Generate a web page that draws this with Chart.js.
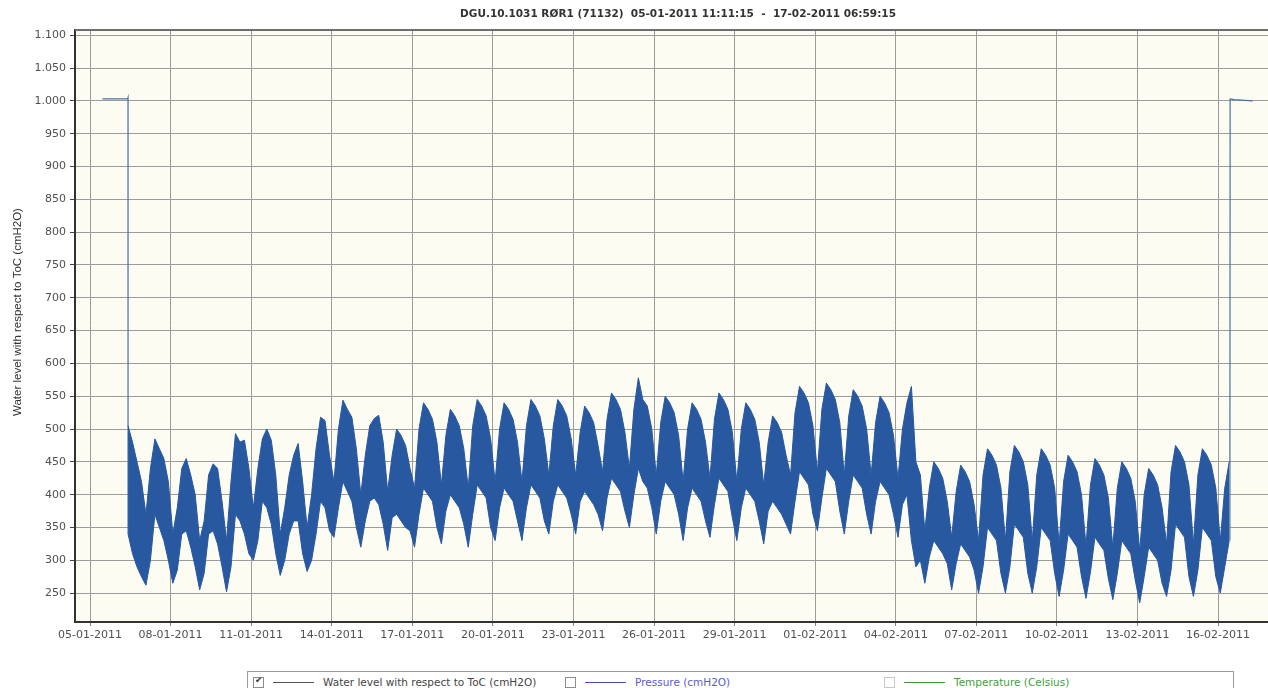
<!DOCTYPE html>
<html>
<head>
<meta charset="utf-8">
<script src="https://cdn.jsdelivr.net/npm/chart.js@4.4.1/dist/chart.umd.min.js"></script>
<style>
  html, body { margin: 0; padding: 0; background: #fff; width: 1268px; height: 688px; overflow: hidden; }
  #wrap { position: relative; width: 1268px; height: 688px; }
  #chart { position: absolute; left: 0; top: 0; }
  #legend { position: absolute; left: 247px; top: 671px; width: 985px; height: 20px;
            border: 1px solid #9a9a9a; background: #fff; font: 10.5px "DejaVu Sans", sans-serif; }
  .item { position: absolute; top: 0; height: 20px; display: flex; align-items: center; white-space: nowrap; }
  .box { width: 9px; height: 9px; border: 1px solid #8c8c8c; background: #fff; position: relative; }
  .box.on::after { content: "\2714"; position: absolute; left: 1px; top: -3px; font-size: 9px; color: #333; }
  .sample { display: inline-block; width: 41px; height: 1px; margin: 0 9px 0 9px; }
</style>
</head>
<body>
<div id="wrap">
  <canvas id="chart" width="1268" height="665"></canvas>
  <div id="legend">
    <div class="item" style="left:5px"><span class="box on"></span><span class="sample" style="background:#555"></span><span style="color:#444">Water level with respect to ToC (cmH2O)</span></div>
    <div class="item" style="left:317px"><span class="box"></span><span class="sample" style="background:#4a4ac8"></span><span style="color:#5a5ad0">Pressure (cmH2O)</span></div>
    <div class="item" style="left:636px"><span class="box" style="border-color:#c8c8c8"></span><span class="sample" style="background:#3a9a3a"></span><span style="color:#3f9f3f">Temperature (Celsius)</span></div>
  </div>
</div>
<script>
// Time is measured in days from 05-01-2011 00:00.
const chartTitle = 'DGU.10.1031 RØR1 (71132)  05-01-2011 11:11:15  -  17-02-2011 06:59:15';
const yTitle = 'Water level with respect to ToC (cmH2O)';

const tickDays = [0, 3, 6, 9, 12, 15, 18, 21, 24, 27, 30, 33, 36, 39, 42];
const tickLabels = ['05-01-2011', '08-01-2011', '11-01-2011', '14-01-2011', '17-01-2011',
  '20-01-2011', '23-01-2011', '26-01-2011', '29-01-2011', '01-02-2011', '04-02-2011',
  '07-02-2011', '10-02-2011', '13-02-2011', '16-02-2011'];

const yTicks = [250, 300, 350, 400, 450, 500, 550, 600, 650, 700, 750, 800, 850, 900, 950, 1000, 1050, 1100];
const yTickLabels = ['250', '300', '350', '400', '450', '500', '550', '600', '650', '700', '750',
  '800', '850', '900', '950', '1.000', '1.050', '1.100'];

// Logger hanging in air before installation, then the drop into the well
const startTimes  = [0.466, 1.40, 1.415, 1.4167];
const startLevels = [1003, 1003, 1005, 340];

// Logger pulled up again at the end of the period
const endTimes  = [42.44, 42.45, 42.60, 43.29];
const endLevels = [330, 1003, 1002, 1000];

// Envelope of the dense in-well record, one pair every 4 hours from 06-01-2011 10:00
const bandStart = 1.4167;
const bandStepDays = 4 / 24;
const bandUpper = [
  // 06-01: 10 14 18 22
  505, 480, 450, 420,
  // 07-01 onwards: 02 06 10 14 18 22
  370, 440, 485, 470, 455, 420,
  340, 380, 440, 455, 430, 400,
  330, 360, 430, 447, 440, 390,
  330, 420, 493, 480, 483, 440,
  380, 440, 485, 500, 483, 430,
  340, 380, 430, 460, 478, 420,
  350, 400, 470, 518, 513, 460,
  420, 500, 544, 530, 518, 470,
  400, 460, 505, 516, 521, 480,
  405, 460, 500, 490, 475, 440,
  410, 500, 540, 530, 515, 480,
  415, 490, 530, 520, 505, 470,
  410, 505, 545, 535, 520, 485,
  420, 500, 540, 530, 515, 480,
  420, 505, 545, 535, 520, 485,
  430, 505, 545, 535, 520, 485,
  430, 495, 535, 525, 510, 475,
  435, 515, 555, 545, 530, 495,
  440, 530, 578, 545, 535, 500,
  430, 510, 550, 540, 525, 490,
  420, 500, 540, 530, 515, 480,
  425, 515, 555, 545, 530, 495,
  420, 500, 540, 530, 515, 480,
  415, 480, 520, 510, 495, 460,
  430, 525, 565, 555, 540, 505,
  435, 530, 570, 560, 545, 510,
  430, 520, 560, 550, 535, 500,
  430, 510, 550, 540, 525, 490,
  425, 500, 540, 565, 450, 430,
  345, 410, 450, 440, 425, 390,
  335, 405, 445, 435, 420, 385,
  330, 430, 470, 460, 445, 410,
  330, 435, 475, 465, 450, 415,
  330, 430, 470, 460, 445, 410,
  325, 420, 460, 450, 435, 400,
  322, 415, 455, 445, 430, 395,
  320, 410, 450, 440, 425, 390,
  315, 400, 440, 430, 415, 380,
  325, 435, 475, 465, 450, 415,
  325, 430, 470, 460, 445, 410,
  // 16-02: 02 06 10
  330, 410, 450
];
const bandLower = [
  340, 310, 290, 275,
  262, 300, 370, 350, 330, 300,
  265, 285, 340, 345, 320, 290,
  255, 280, 340, 345, 325, 290,
  252, 290, 370, 360, 340, 310,
  300, 330, 390, 380, 355, 310,
  277, 300, 340, 360, 360, 310,
  283, 300, 340, 390, 380, 345,
  335, 380, 420, 405, 390, 350,
  320, 360, 390, 395, 385, 355,
  315, 365, 370, 360, 350, 345,
  320, 370, 410, 400, 390, 350,
  325, 375, 400, 390, 380, 355,
  320, 370, 415, 405, 395, 350,
  330, 380, 410, 400, 390, 360,
  330, 380, 415, 405, 395, 360,
  340, 390, 415, 405, 395, 370,
  340, 390, 405, 395, 385, 370,
  345, 395, 425, 415, 405, 375,
  350, 400, 440, 420, 410, 380,
  340, 390, 420, 410, 400, 370,
  330, 380, 410, 400, 390, 360,
  335, 385, 425, 415, 405, 365,
  330, 380, 410, 400, 390, 360,
  325, 375, 390, 380, 370, 355,
  340, 390, 435, 425, 415, 370,
  345, 395, 440, 430, 420, 375,
  340, 390, 430, 420, 410, 370,
  340, 390, 420, 410, 400, 370,
  335, 385, 400, 330, 290, 300,
  265, 305, 330, 320, 310, 295,
  255, 295, 325, 315, 305, 285,
  250, 290, 350, 340, 330, 280,
  250, 290, 355, 345, 335, 280,
  250, 290, 350, 340, 330, 280,
  245, 285, 340, 330, 320, 275,
  242, 282, 335, 325, 315, 272,
  240, 280, 330, 320, 310, 270,
  235, 275, 320, 310, 300, 265,
  245, 285, 355, 345, 335, 275,
  245, 285, 350, 340, 330, 275,
  250, 290, 330
];

const Y_MIN = 206, Y_MAX = 1108;
const X_MIN = -0.5585, X_MAX = 43.86;
const BAND_COLOR = 'rgb(40,88,160)';
const LINE_COLOR = 'rgb(70,115,160)';

const pts = (ts, vs) => ts.map((t, i) => ({ x: t, y: vs[i] }));
const bandTimes = bandUpper.map((_, i) => bandStart + i * bandStepDays);

const framePlugin = {
  id: 'frame',
  beforeDraw(chart) {
    const { ctx, chartArea: a } = chart;
    ctx.save();
    ctx.fillStyle = '#fcfcf2';
    ctx.fillRect(a.left, a.top, a.right - a.left, a.bottom - a.top);
    ctx.restore();
  },
  afterDraw(chart) {
    const { ctx, chartArea: a } = chart;
    ctx.save();
    ctx.strokeStyle = '#6e6e6e';
    ctx.lineWidth = 2;
    ctx.beginPath();
    ctx.moveTo(a.left, a.top);
    ctx.lineTo(a.right, a.top);
    ctx.stroke();
    // chart title
    ctx.fillStyle = '#333';
    ctx.font = 'bold 10.5px "DejaVu Sans", sans-serif';
    ctx.textAlign = 'center';
    ctx.textBaseline = 'middle';
    ctx.fillText(chartTitle, 678, 14);
    // y axis title
    ctx.translate(18, 312);
    ctx.rotate(-Math.PI / 2);
    ctx.font = '11.5px "Liberation Sans", sans-serif';
    ctx.fillStyle = '#333';
    ctx.fillText(yTitle, 0, 0);
    ctx.restore();
  }
};

new Chart(document.getElementById('chart'), {
  type: 'line',
  data: {
    datasets: [
      { data: pts(bandTimes, bandUpper), borderColor: BAND_COLOR, borderWidth: 1, fill: false, pointRadius: 0 },
      { data: pts(bandTimes, bandLower), borderColor: BAND_COLOR, borderWidth: 1, backgroundColor: BAND_COLOR, fill: '-1', pointRadius: 0 },
      { data: pts(startTimes, startLevels), borderColor: LINE_COLOR, borderWidth: 1.2, fill: false, pointRadius: 0 },
      { data: pts(endTimes, endLevels), borderColor: LINE_COLOR, borderWidth: 1.2, fill: false, pointRadius: 0 }
    ]
  },
  options: {
    responsive: false,
    animation: false,
    events: [],
    layout: { padding: { top: 30, left: 0, right: 0, bottom: 0 } },
    plugins: { legend: { display: false }, title: { display: false }, tooltip: { enabled: false } },
    elements: { line: { tension: 0 } },
    scales: {
      x: {
        type: 'linear',
        min: X_MIN, max: X_MAX,
        afterBuildTicks(scale) { scale.ticks = tickDays.map(v => ({ value: v })); },
        afterFit(scale) { scale.height = 43; },
        ticks: {
          autoSkip: false, maxRotation: 0, padding: 3,
          color: '#505050', font: { family: '"DejaVu Sans", sans-serif', size: 11 },
          callback(value) { const i = tickDays.indexOf(value); return i >= 0 ? tickLabels[i] : ''; }
        },
        grid: { color: '#9c9c9c', lineWidth: 1, tickLength: 4, tickColor: '#888' },
        border: { display: true, color: '#333', width: 2 }
      },
      y: {
        type: 'linear',
        min: Y_MIN, max: Y_MAX,
        afterBuildTicks(scale) { scale.ticks = yTicks.map(v => ({ value: v })); },
        afterFit(scale) { scale.width = 75; },
        ticks: {
          padding: 4, color: '#505050', font: { family: '"DejaVu Sans", sans-serif', size: 11 },
          callback(value) { const i = yTicks.indexOf(value); return i >= 0 ? yTickLabels[i] : ''; }
        },
        grid: { color: '#9c9c9c', lineWidth: 1, tickLength: 5, tickColor: '#444' },
        border: { display: true, color: '#333', width: 2 }
      }
    }
  },
  plugins: [framePlugin]
});
</script>
</body>
</html>
